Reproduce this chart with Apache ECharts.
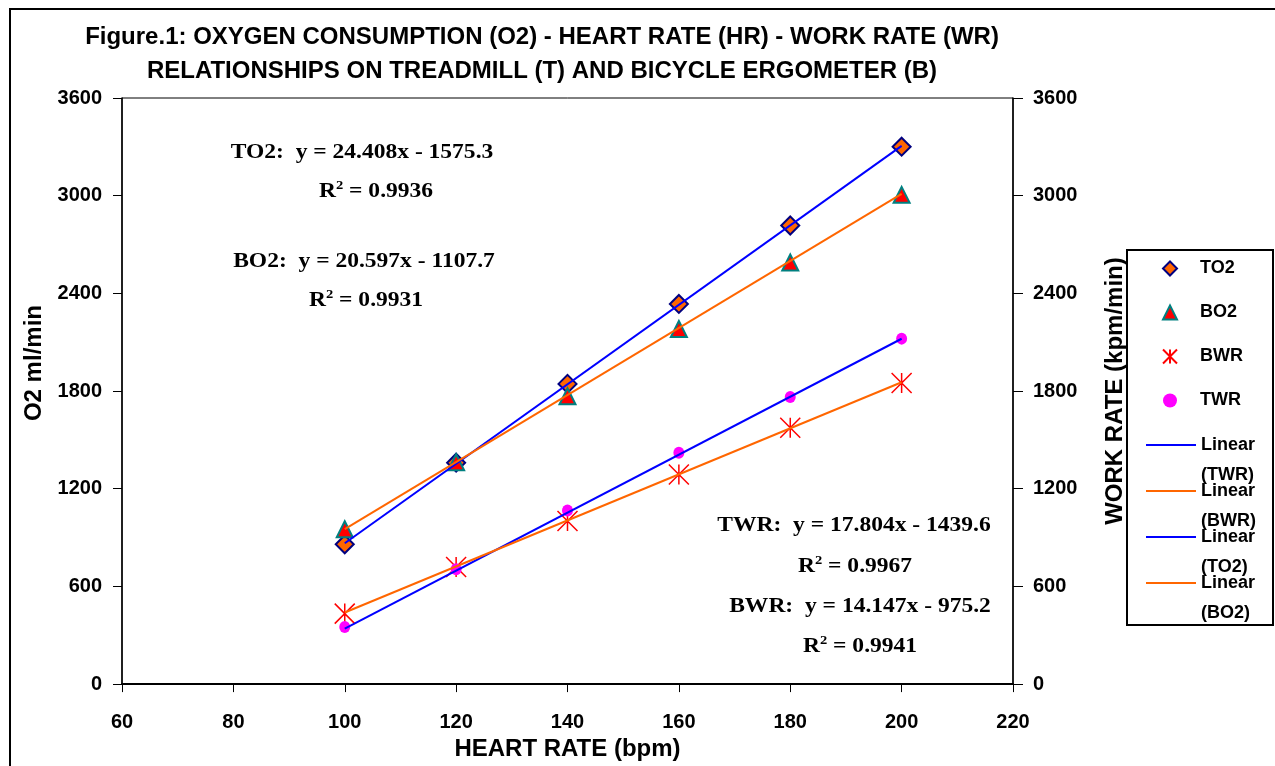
<!DOCTYPE html>
<html>
<head>
<meta charset="utf-8">
<title>Figure 1</title>
<script src="https://cdn.jsdelivr.net/npm/echarts@6/dist/echarts.min.js"></script>
<style>
  html, body { margin: 0; padding: 0; background: #fff; }
  #chart { width: 1275px; height: 766px; }
</style>
</head>
<body>
<div id="chart"></div>
<script>
// heart rate (bpm)
var heartRate = [100, 120, 140, 160, 180, 200]
// O2 ml/min
var to2 = [859, 1360, 1844, 2335, 2817, 3301]
var bo2 = [951, 1363, 1768, 2181, 2590, 3005]
// work rate kpm/min
var bwr = [433, 719, 1002, 1288, 1574, 1850]
var twr = [351, 705, 1067, 1421, 1764, 2122]
// linear fits, end points at 100 and 200 bpm
var fitTWR = [340.8, 2121.2]
var fitBWR = [439.5, 1854.2]
var fitTO2 = [865.5, 3306.3]
var fitBO2 = [952.0, 3011.7]
var fitRange = [100, 200]
var yTicks = [0, 3600, 600]
var xTicks = [60, 220, 20]

var fitText = [
  { eq: 'TO2:  y = 24.408x - 1575.3', r2: '0.9936', x: 362, y: 153, rx: 376, ry: 192 },
  { eq: 'BO2:  y = 20.597x - 1107.7', r2: '0.9931', x: 364, y: 262, rx: 366, ry: 301 },
  { eq: 'TWR:  y = 17.804x - 1439.6', r2: '0.9967', x: 854, y: 526, rx: 855, ry: 567 },
  { eq: 'BWR:  y = 14.147x - 975.2', r2: '0.9941', x: 860, y: 607, rx: 860, ry: 647 }
]

var sans = '"Liberation Sans", Arial, sans-serif'
var serif = '"Liberation Serif", "Times New Roman", serif'
var blue = '#0000FF'
var orange = '#FF6600'

// path symbols so the legend keeps their shape
var diamondIcon = 'path://M10,0L20,10L10,20L0,10Z'
var triangleIcon = 'path://M10,0L20,20L0,20Z'
var starIcon = 'path://M0,0L20,20M20,0L0,20M10,0L10,20'
var dotIcon = 'path://M0,10A10,10,0,1,1,20,10A10,10,0,1,1,0,10Z'

function pts (ys) {
  return heartRate.map(function (x, i) { return [x, ys[i]] })
}
function fit (ys) {
  return [[fitRange[0], ys[0]], [fitRange[1], ys[1]]]
}
function plain (v) { return String(v) }

var labelStyle = { color: '#000', fontFamily: sans, fontWeight: 'bold', fontSize: 20 }
var nameStyle = { color: '#000', fontFamily: sans, fontWeight: 'bold', fontSize: 24 }
var legendText = { color: '#000', fontFamily: sans, fontWeight: 'bold', fontSize: 18 }

var graphics = [
  {
    type: 'rect',
    shape: { x: 10, y: 9, width: 1285, height: 780 },
    style: { fill: 'none', stroke: '#000', lineWidth: 2 },
    silent: true
  },
  {
    type: 'rect',
    shape: { x: 1127, y: 250, width: 146, height: 375 },
    style: { fill: 'none', stroke: '#000', lineWidth: 2 },
    silent: true
  },
  {
    type: 'text',
    x: 542, y: 20,
    style: {
      text: 'Figure.1: OXYGEN CONSUMPTION (O2) - HEART RATE (HR) - WORK RATE (WR)\nRELATIONSHIPS ON TREADMILL (T) AND BICYCLE ERGOMETER (B)',
      fontFamily: sans, fontWeight: 'bold', fontSize: 24, lineHeight: 34,
      fill: '#000', align: 'center', verticalAlign: 'top'
    }
  }
]
fitText.forEach(function (t) {
  graphics.push({
    type: 'text',
    x: t.x, y: t.y, scaleX: 1.12,
    style: {
      text: t.eq, fontFamily: serif, fontWeight: 'bold', fontSize: 21,
      fill: '#000', align: 'center', verticalAlign: 'middle'
    }
  })
  graphics.push({
    type: 'text',
    x: t.rx, y: t.ry, scaleX: 1.12,
    style: {
      text: '{b|R}{s|2}{b| = ' + t.r2 + '}',
      align: 'center', verticalAlign: 'middle',
      rich: {
        b: { fontFamily: serif, fontWeight: 'bold', fontSize: 21, fill: '#000', lineHeight: 26 },
        s: { fontFamily: serif, fontWeight: 'bold', fontSize: 13, fill: '#000', verticalAlign: 'top', lineHeight: 26 }
      }
    }
  })
})

var chart = echarts.init(document.getElementById('chart'))
var option = {
  backgroundColor: '#fff',
  animation: false,
  grid: {
    left: 122, right: 262, top: 98, bottom: 81,
    show: true, borderColor: '#000', borderWidth: 1
  },
  legend: [
    {
      data: ['TO2', 'BO2', 'BWR', 'TWR'],
      orient: 'vertical', left: 1157, top: 253,
      itemWidth: 50, itemHeight: 14, itemGap: 23,
      selectedMode: false,
      textStyle: Object.assign({ lineHeight: 21 }, legendText)
    },
    {
      data: ['Linear (TWR)', 'Linear (BWR)', 'Linear (TO2)', 'Linear (BO2)'],
      formatter: function (name) { return '\n' + name.replace(' ', '\n') },
      orient: 'vertical', left: 1141, top: 395,
      icon: 'rect', itemWidth: 50, itemHeight: 2, itemGap: -44,
      selectedMode: false,
      textStyle: Object.assign({ lineHeight: 30 }, legendText)
    }
  ],
  xAxis: {
    type: 'value', min: xTicks[0], max: xTicks[1], interval: xTicks[2],
    name: 'HEART RATE (bpm)', nameLocation: 'middle', nameGap: 50,
    nameTextStyle: nameStyle,
    axisLine: { lineStyle: { color: '#000', width: 2 } },
    axisTick: { length: 8, lineStyle: { color: '#000', width: 1 } },
    axisLabel: Object.assign({ margin: 28, formatter: plain }, labelStyle),
    splitLine: { show: false }
  },
  yAxis: [
    {
      type: 'value', min: yTicks[0], max: yTicks[1], interval: yTicks[2],
      name: 'O2 ml/min', nameLocation: 'middle', nameGap: 76,
      nameTextStyle: Object.assign({ padding: [0, 0, 0, 56] }, nameStyle),
      axisLine: { show: true, lineStyle: { color: '#000', width: 1.5 } },
      axisTick: { show: true, length: 9, lineStyle: { color: '#000', width: 1 } },
      axisLabel: Object.assign({ margin: 20, formatter: plain }, labelStyle),
      splitLine: { show: false }
    },
    {
      type: 'value', position: 'right', min: yTicks[0], max: yTicks[1], interval: yTicks[2],
      name: 'WORK RATE (kpm/min)', nameLocation: 'middle', nameGap: 90,
      nameTextStyle: nameStyle,
      axisLine: { show: true, lineStyle: { color: '#000', width: 1.5 } },
      axisTick: { show: true, length: 10, lineStyle: { color: '#000', width: 1 } },
      axisLabel: Object.assign({ margin: 20, formatter: plain }, labelStyle),
      splitLine: { show: false }
    }
  ],
  series: [
    {
      name: 'TO2', type: 'scatter', data: pts(to2), symbol: diamondIcon, symbolSize: 18,
      itemStyle: { color: orange, borderColor: '#000080', borderWidth: 2, opacity: 1 }
    },
    {
      name: 'BO2', type: 'scatter', data: pts(bo2), symbol: triangleIcon, symbolSize: 16,
      itemStyle: { color: '#FF0000', borderColor: '#008080', borderWidth: 2, opacity: 1 }
    },
    {
      name: 'BWR', type: 'scatter', data: pts(bwr), symbol: starIcon, symbolSize: 20,
      itemStyle: { color: '#FF0000', borderColor: '#FF0000', borderWidth: 1.5, opacity: 1 }
    },
    {
      name: 'TWR', type: 'scatter', data: pts(twr), symbol: dotIcon, symbolSize: [11, 12],
      itemStyle: { color: '#FF00FF', opacity: 1 }
    },
    {
      name: 'Linear (TWR)', type: 'line', yAxisIndex: 1, data: fit(fitTWR), symbol: 'none',
      lineStyle: { color: blue, width: 2 }, itemStyle: { color: blue }
    },
    {
      name: 'Linear (BWR)', type: 'line', yAxisIndex: 1, data: fit(fitBWR), symbol: 'none',
      lineStyle: { color: orange, width: 2 }, itemStyle: { color: orange }
    },
    {
      name: 'Linear (TO2)', type: 'line', data: fit(fitTO2), symbol: 'none',
      lineStyle: { color: blue, width: 2 }, itemStyle: { color: blue }
    },
    {
      name: 'Linear (BO2)', type: 'line', data: fit(fitBO2), symbol: 'none',
      lineStyle: { color: orange, width: 2 }, itemStyle: { color: orange }
    }
  ],
  graphic: graphics
}
chart.setOption(option)
</script>
</body>
</html>
